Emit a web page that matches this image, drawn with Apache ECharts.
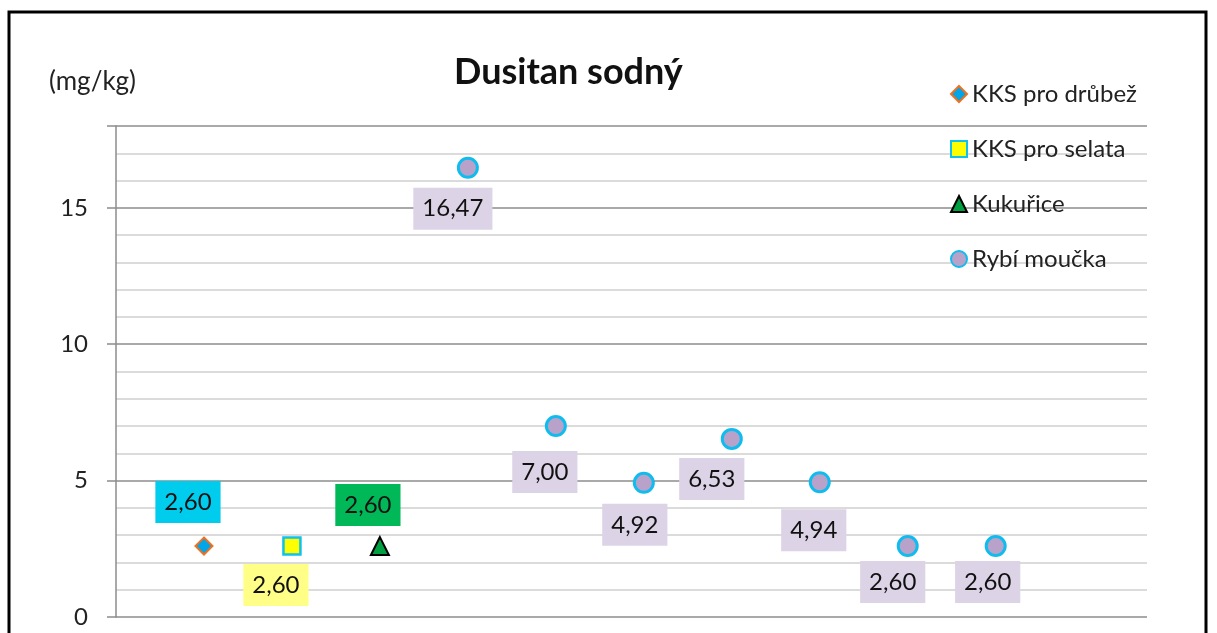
<!DOCTYPE html>
<html>
<head>
<meta charset="utf-8">
<script src="https://cdn.jsdelivr.net/npm/echarts@6/dist/echarts.min.js"></script>
<style>
  html, body { margin: 0; padding: 0; background: #fff; }
  #chart { width: 1217px; height: 633px; }
</style>
</head>
<body>
<div id="chart"></div>
<script>
// series names and values (mg/kg)
const names = ["KKS pro drůbež", "KKS pro selata", "Kukuřice", "Rybí moučka"];
const drubezX = [1];
const drubezY = [2.6];
const selataX = [2];
const selataY = [2.6];
const kukuriceX = [3];
const kukuriceY = [2.6];
const moučkaX = [4, 5, 6, 7, 8, 9, 10];
const moučkaY = [16.47, 7.0, 4.92, 6.53, 4.94, 2.6, 2.6];
const yTicks = [0, 5, 10, 15];

// label box offsets (style only)
const moučkaOffsets = [[-15, 41], [-11, 46], [-9, 42], [-20, 40], [-6, 48], [-15, 36], [-8, 36]];

const fmt = (v) => v.toFixed(2).replace(".", ",");
const font = "Lato, 'Open Sans', sans-serif";

function pts(xs, ys) {
    return xs.map((x, i) => [x, ys[i]]);
}

function labelStyle(bg, offset) {
    return {
        show: true,
        position: "inside",
        offset: offset,
        formatter: (p) => fmt(p.value[1]),
        color: "#111",
        fontFamily: font,
        fontSize: 24,
        backgroundColor: bg,
        padding: [10, 9, 8, 9],
    };
}

const chart = echarts.init(document.getElementById("chart"));
const option = {
    animation: false,
    textStyle: { fontFamily: font },
    title: [
        {
            text: "Dusitan sodný",
            left: 449,
            top: 49,
            textStyle: { fontSize: 36, fontWeight: "bold", color: "#111", fontFamily: font },
        },
        {
            text: "(mg/kg)",
            left: 44,
            top: 64,
            textStyle: { fontSize: 26, fontWeight: "normal", color: "#222", fontFamily: font },
        },
    ],
    graphic: [
        {
            type: "rect",
            shape: { x: 9, y: 12, width: 1197, height: 640 },
            style: { fill: null, stroke: "#000", lineWidth: 3 },
            silent: true,
        },
    ],
    legend: {
        orient: "vertical",
        left: 945,
        top: 77,
        itemWidth: 16,
        itemHeight: 16,
        itemGap: 31,
        data: names,
        textStyle: { fontSize: 24, color: "#222", fontFamily: font },
    },
    grid: { left: 116, right: 70, top: 126, bottom: 16 },
    xAxis: {
        type: "value",
        min: 0,
        max: 11.72,
        axisLine: { show: false },
        axisTick: { show: false },
        axisLabel: { show: false },
        splitLine: { show: false },
    },
    yAxis: {
        type: "value",
        min: 0,
        max: 18,
        interval: 5,
        axisLine: { show: true, lineStyle: { color: "#8c8c8c", width: 1.5 } },
        axisTick: { show: true, length: 9, lineStyle: { color: "#8c8c8c", width: 1.5 } },
        axisLabel: {
            fontSize: 24,
            color: "#222",
            margin: 28,
            formatter: (v) => (yTicks.includes(v) ? String(v) : ""),
        },
        splitLine: { show: true, lineStyle: { color: "#8c8c8c", width: 1.5 } },
        minorTick: { show: false, splitNumber: 5 },
        minorSplitLine: { show: true, lineStyle: { color: "#cfcfcf", width: 1.5 } },
    },
    series: [
        {
            name: names[0],
            type: "scatter",
            symbol: "diamond",
            symbolSize: 17,
            itemStyle: { color: "#00a6e8", borderColor: "#f07020", borderWidth: 2, opacity: 1 },
            label: labelStyle("#00ccee", [-16, -44]),
            data: pts(drubezX, drubezY),
        },
        {
            name: names[1],
            type: "scatter",
            symbol: "rect",
            symbolSize: 17,
            itemStyle: { color: "#ffff00", borderColor: "#10c0ee", borderWidth: 2.5, opacity: 1 },
            label: labelStyle("#ffff88", [-16, 39]),
            data: pts(selataX, selataY),
        },
        {
            name: names[2],
            type: "scatter",
            symbol: "triangle",
            symbolSize: 18,
            itemStyle: { color: "#00a040", borderColor: "#000", borderWidth: 2, opacity: 1 },
            label: labelStyle("#00b858", [-12, -41]),
            data: pts(kukuriceX, kukuriceY),
        },
        {
            name: names[3],
            type: "scatter",
            symbol: "circle",
            symbolSize: 19,
            itemStyle: { color: "#b9a2c9", borderColor: "#10bcee", borderWidth: 3, opacity: 1 },
            label: labelStyle("#ddd3e6", [0, 0]),
            data: pts(moučkaX, moučkaY).map((p, i) => ({
                value: p,
                label: { offset: moučkaOffsets[i] },
            })),
        },
    ],
};
chart.setOption(option);
</script>
</body>
</html>
